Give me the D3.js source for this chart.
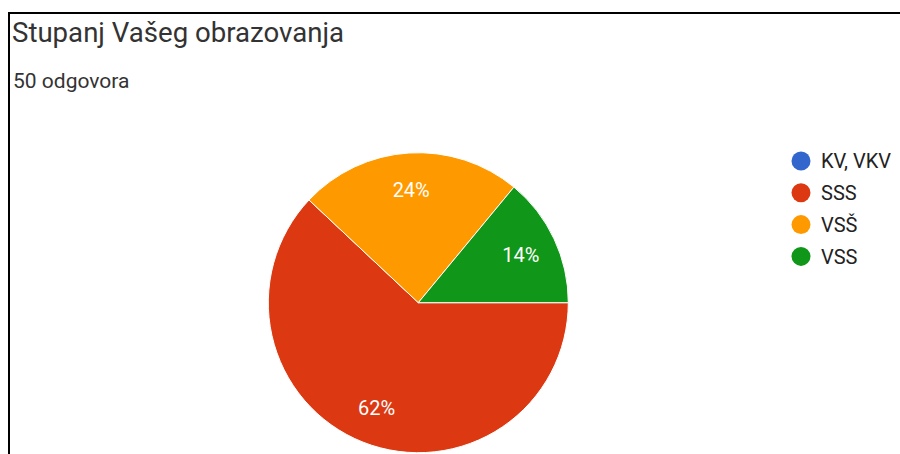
<!DOCTYPE html>
<html><head><meta charset="utf-8">
<script src="https://cdn.jsdelivr.net/npm/d3@7"></script>
<style>body{margin:0;background:#fff;}svg{display:block;font-family:Roboto,Arial,sans-serif;}</style>
</head><body>
<svg id="chart" width="900" height="454"></svg>
<script>
const categories = ["KV, VKV", "SSS", "VSŠ", "VSS"];
const values = [0, 31, 12, 7];
const colors = ["#3366cc", "#dc3912", "#ff9900", "#109618"];
const title = "Stupanj Vašeg obrazovanja";
const subtitle = "50 odgovora";

const svg = d3.select("#chart");
svg.append("rect").attr("x", 9).attr("y", 13).attr("width", 1000).attr("height", 1000)
  .attr("fill", "#fff").attr("stroke", "#000").attr("stroke-width", 2);

svg.append("text").attr("x", 12).attr("y", 42).attr("font-size", 27.6).attr("fill", "#333").text(title);
svg.append("text").attr("x", 13).attr("y", 88).attr("font-size", 21).attr("fill", "#333").text(subtitle);

const cx = 418.3, cy = 302.7, r = 150;
const total = d3.sum(values);
const color = d3.scaleOrdinal().domain(categories).range(colors);
const pie = d3.pie().sort(null).value(d => d.v).startAngle(Math.PI / 2).endAngle(Math.PI / 2 + 2 * Math.PI);
const data = categories.map((c, i) => ({ c, v: values[i] }));
const arcs = pie(data);
const arc = d3.arc().innerRadius(0).outerRadius(r);
const labelArc = d3.arc().innerRadius(r * 0.755).outerRadius(r * 0.755);

const g = svg.append("g").attr("transform", `translate(${cx},${cy})`);
g.selectAll("path").data(arcs.filter(d => d.data.v > 0)).join("path")
  .attr("d", arc).attr("fill", d => color(d.data.c))
  .attr("stroke", "#fff").attr("stroke-width", 1);

g.selectAll("text").data(arcs.filter(d => d.data.v > 0)).join("text")
  .attr("transform", d => `translate(${labelArc.centroid(d)})`)
  .attr("text-anchor", "middle").attr("dy", "0.36em")
  .attr("font-size", 20).attr("fill", "#fff")
  .text(d => Math.round(d.data.v / total * 100) + "%");

const lg = svg.append("g").attr("transform", "translate(801,161)");
const items = lg.selectAll("g").data(categories).join("g")
  .attr("transform", (d, i) => `translate(0,${i * 31.8})`);
items.append("circle").attr("r", 9.5).attr("fill", d => color(d));
items.append("text").attr("x", 20).attr("dy", "0.36em").attr("font-size", 20).attr("fill", "#222").text(d => d);
</script>
</body></html>
